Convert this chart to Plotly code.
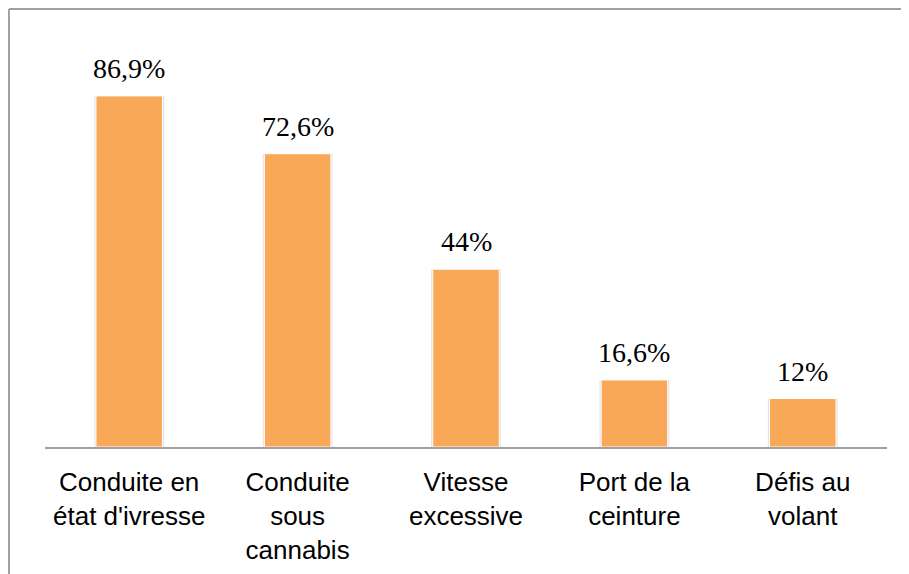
import plotly.graph_objs as go

# Data
categories = [
    "Conduite en<br>état d'ivresse",
    "Conduite<br>sous<br>cannabis",
    "Vitesse<br>excessive",
    "Port de la<br>ceinture",
    "Défis au<br>volant",
]
values = [86.9, 72.6, 44, 16.6, 12]
value_labels = ["86,9%", "72,6%", "44%", "16,6%", "12%"]

BAR_COLOR = "#F8A857"

fig = go.Figure()

# Soft shadow behind the bars
fig.add_trace(
    go.Bar(
        x=categories,
        y=values,
        width=0.415,
        marker=dict(color="#E4E4E4", line=dict(width=0)),
        hoverinfo="skip",
        showlegend=False,
    )
)

# Main bars
fig.add_trace(
    go.Bar(
        x=categories,
        y=values,
        width=0.395,
        marker=dict(color=BAR_COLOR, line=dict(color="white", width=1)),
        showlegend=False,
    )
)

# Value labels above bars
for cat, val, lab in zip(categories, values, value_labels):
    fig.add_annotation(
        x=cat,
        y=val,
        text=lab,
        showarrow=False,
        yanchor="bottom",
        yshift=10,
        font=dict(family="Liberation Serif", size=28, color="#000000"),
    )

# Outer chart frame (left and top edges visible)
fig.add_shape(
    type="line", xref="paper", yref="paper",
    x0=-0.0428, x1=-0.0428, y0=-0.5, y1=1.084,
    line=dict(color="#A0A0A0", width=2),
)
fig.add_shape(
    type="line", xref="paper", yref="paper",
    x0=-0.0428, x1=1.1, y0=1.084, y1=1.084,
    line=dict(color="#A0A0A0", width=2),
)

fig.update_xaxes(
    showline=True,
    linecolor="#A0A0A0",
    linewidth=2,
    ticks="",
    showgrid=False,
    tickfont=dict(family="Liberation Sans, Arial", size=26, color="#000000"),
    ticklabelstandoff=11,
)

fig.update_yaxes(
    range=[0, 100],
    visible=False,
    showgrid=False,
    zeroline=False,
)

fig.update_layout(
    barmode="overlay",
    plot_bgcolor="white",
    paper_bgcolor="white",
    width=909,
    height=574,
    margin=dict(l=37, r=30, t=35, b=135),
    bargap=0.6,
)

fig.write_html("out.html")
